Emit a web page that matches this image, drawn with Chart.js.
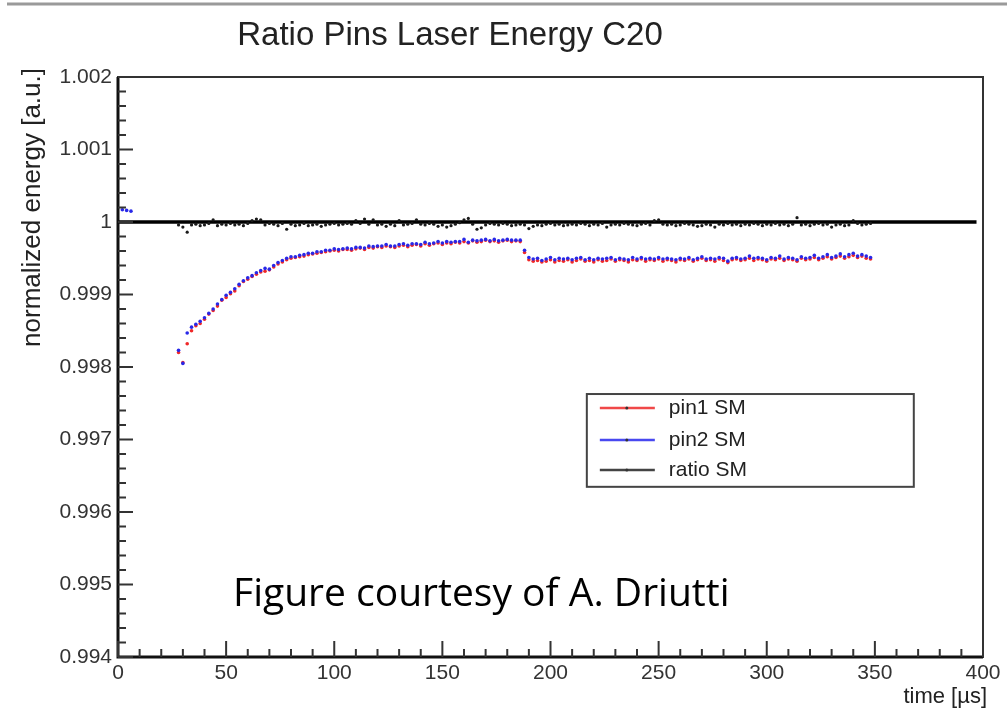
<!DOCTYPE html>
<html>
<head>
<meta charset="utf-8">
<title>Ratio Pins Laser Energy C20</title>
<script src="https://cdn.jsdelivr.net/npm/chart.js@4.4.1/dist/chart.umd.min.js"></script>
<style>
  html, body { margin: 0; padding: 0; background: #fff; }
  #wrap { width: 1007px; height: 715px; position: relative; }
</style>
</head>
<body>
<div id="wrap"><canvas id="chart" width="1007" height="715"></canvas></div>
<script>
// time [µs], one sample every 2 µs
const times = [
  28, 30, 32, 34, 36, 38, 40, 42, 44, 46, 48, 50, 52, 54, 56, 58, 60, 62, 64, 66,
  68, 70, 72, 74, 76, 78, 80, 82, 84, 86, 88, 90, 92, 94, 96, 98, 100, 102, 104, 106,
  108, 110, 112, 114, 116, 118, 120, 122, 124, 126, 128, 130, 132, 134, 136, 138, 140, 142, 144, 146,
  148, 150, 152, 154, 156, 158, 160, 162, 164, 166, 168, 170, 172, 174, 176, 178, 180, 182, 184, 186,
  188, 190, 192, 194, 196, 198, 200, 202, 204, 206, 208, 210, 212, 214, 216, 218, 220, 222, 224, 226,
  228, 230, 232, 234, 236, 238, 240, 242, 244, 246, 248, 250, 252, 254, 256, 258, 260, 262, 264, 266,
  268, 270, 272, 274, 276, 278, 280, 282, 284, 286, 288, 290, 292, 294, 296, 298, 300, 302, 304, 306,
  308, 310, 312, 314, 316, 318, 320, 322, 324, 326, 328, 330, 332, 334, 336, 338, 340, 342, 344, 346,
  348
];

const pin1 = [
  0.99820, 0.99806, 0.99832, 0.99850, 0.99857, 0.99860, 0.99866, 0.99873, 0.99878, 0.99884,
  0.99892, 0.99896, 0.99901, 0.99905, 0.99912, 0.99918, 0.99921, 0.99925, 0.99928, 0.99931,
  0.99932, 0.99934, 0.99938, 0.99942, 0.99945, 0.99948, 0.99950, 0.99951, 0.99952, 0.99953,
  0.99955, 0.99956, 0.99957, 0.99958, 0.99959, 0.99960, 0.99961, 0.99960, 0.99962, 0.99962,
  0.99961, 0.99963, 0.99964, 0.99962, 0.99965, 0.99964, 0.99966, 0.99965, 0.99967, 0.99966,
  0.99965, 0.99967, 0.99968, 0.99966, 0.99968, 0.99969, 0.99967, 0.99970, 0.99968, 0.99970,
  0.99971, 0.99969, 0.99971, 0.99970, 0.99972, 0.99971, 0.99973, 0.99971, 0.99974, 0.99972,
  0.99973, 0.99975, 0.99973, 0.99974, 0.99972, 0.99974, 0.99975, 0.99973, 0.99974, 0.99973,
  0.99958, 0.99948, 0.99946, 0.99947, 0.99945, 0.99946, 0.99948, 0.99945, 0.99947, 0.99946,
  0.99948, 0.99945, 0.99947, 0.99949, 0.99946, 0.99947, 0.99945, 0.99948, 0.99946, 0.99947,
  0.99949, 0.99946, 0.99948, 0.99947, 0.99945, 0.99948, 0.99947, 0.99949, 0.99946, 0.99948,
  0.99947, 0.99949, 0.99946, 0.99948, 0.99947, 0.99945, 0.99948, 0.99947, 0.99949, 0.99946,
  0.99948, 0.99950, 0.99947, 0.99948, 0.99946, 0.99949, 0.99947, 0.99944, 0.99948, 0.99949,
  0.99947, 0.99948, 0.99950, 0.99947, 0.99949, 0.99948, 0.99946, 0.99949, 0.99948, 0.99950,
  0.99947, 0.99949, 0.99948, 0.99946, 0.99950, 0.99948, 0.99949, 0.99951, 0.99948, 0.99950,
  0.99952, 0.99949, 0.99951, 0.99953, 0.99950, 0.99952, 0.99954, 0.99951, 0.99953, 0.99950,
  0.99949
];

const pin2 = [
  0.99823, 0.99805, 0.99847, 0.99855, 0.99859, 0.99863, 0.99868, 0.99874, 0.99880, 0.99887,
  0.99893, 0.99899, 0.99903, 0.99908, 0.99914, 0.99919, 0.99923, 0.99926, 0.99930, 0.99933,
  0.99936, 0.99935, 0.99940, 0.99944, 0.99947, 0.99950, 0.99952, 0.99952, 0.99954, 0.99955,
  0.99957, 0.99957, 0.99959, 0.99959, 0.99961, 0.99961, 0.99963, 0.99962, 0.99963, 0.99964,
  0.99963, 0.99965, 0.99965, 0.99964, 0.99967, 0.99966, 0.99967, 0.99967, 0.99969, 0.99967,
  0.99967, 0.99969, 0.99970, 0.99968, 0.99970, 0.99970, 0.99969, 0.99972, 0.99970, 0.99971,
  0.99973, 0.99971, 0.99973, 0.99972, 0.99973, 0.99973, 0.99976, 0.99972, 0.99975, 0.99974,
  0.99975, 0.99976, 0.99974, 0.99976, 0.99974, 0.99975, 0.99976, 0.99975, 0.99975, 0.99975,
  0.99961, 0.99951, 0.99949, 0.99950, 0.99947, 0.99949, 0.99951, 0.99948, 0.99950, 0.99949,
  0.99950, 0.99948, 0.99950, 0.99951, 0.99948, 0.99950, 0.99948, 0.99950, 0.99949, 0.99950,
  0.99951, 0.99948, 0.99950, 0.99949, 0.99948, 0.99951, 0.99949, 0.99951, 0.99949, 0.99950,
  0.99949, 0.99951, 0.99949, 0.99950, 0.99949, 0.99948, 0.99950, 0.99949, 0.99951, 0.99948,
  0.99950, 0.99952, 0.99949, 0.99950, 0.99949, 0.99951, 0.99950, 0.99946, 0.99950, 0.99951,
  0.99949, 0.99950, 0.99953, 0.99950, 0.99951, 0.99950, 0.99948, 0.99951, 0.99950, 0.99953,
  0.99949, 0.99951, 0.99950, 0.99948, 0.99952, 0.99950, 0.99951, 0.99954, 0.99950, 0.99952,
  0.99955, 0.99951, 0.99953, 0.99956, 0.99952, 0.99955, 0.99957, 0.99953, 0.99955, 0.99953,
  0.99951
];

// few stray pin2 points at the very start
const earlyTimes = [2, 4, 6];
const earlyPin2 = [1.00017, 1.00016, 1.00015];

const ratio = [
  0.99996, 0.99993, 0.99986, 0.99996, 0.99997, 0.99995, 0.99996, 0.99998, 1.00003, 0.99995,
  0.99997, 0.99996, 0.99998, 0.99996, 0.99997, 0.99995, 0.99998, 1.00002, 1.00004, 1.00003,
  0.99996, 0.99998, 0.99997, 0.99995, 0.99998, 0.99990, 0.99997, 0.99995, 0.99996, 0.99998,
  0.99995, 0.99996, 0.99997, 0.99994, 0.99996, 0.99997, 0.99998, 0.99996, 0.99997, 0.99998,
  0.99997, 1.00002, 0.99998, 1.00004, 0.99997, 1.00003, 0.99996, 0.99997, 0.99994, 0.99997,
  0.99995, 1.00002, 0.99996, 0.99997, 0.99998, 1.00003, 0.99997, 0.99996, 0.99998, 0.99997,
  0.99994, 0.99996, 0.99993, 0.99995, 0.99997, 0.99999, 1.00003, 1.00005, 0.99997, 0.99990,
  0.99992, 0.99996, 0.99998, 0.99997, 0.99996, 0.99998, 0.99997, 0.99995, 0.99996, 0.99997,
  0.99996, 0.99991, 0.99994, 0.99996, 0.99995, 0.99997, 0.99998, 0.99996, 0.99997, 0.99995,
  0.99996, 0.99997, 0.99996, 0.99998, 0.99997, 0.99995, 0.99997, 0.99996, 0.99998, 0.99993,
  0.99996, 0.99997, 0.99996, 0.99998, 0.99997, 0.99996, 0.99995, 0.99997, 0.99998, 0.99996,
  1.00002, 1.00003, 0.99997, 0.99996, 0.99997, 0.99995, 0.99996, 0.99998, 0.99997, 0.99996,
  0.99994, 0.99995, 0.99997, 0.99996, 0.99993, 0.99997, 0.99996, 0.99998, 0.99996, 0.99997,
  0.99995, 0.99997, 0.99996, 0.99998, 0.99997, 0.99995, 0.99997, 0.99996, 0.99998, 0.99996,
  0.99997, 0.99995, 0.99997, 1.00006, 0.99996, 0.99997, 0.99995, 0.99997, 0.99998, 0.99996,
  0.99997, 0.99993, 0.99996, 0.99997, 0.99995, 0.99996, 1.00002, 0.99998, 0.99996, 0.99997,
  0.99998
];

// reference line at 1
const refTimes = [0, 397];
const refValues = [1, 1];

const legendLabels = ["pin1 SM", "pin2 SM", "ratio SM"];
const legendColors = ["#f04848", "#4848f0", "#444444"];

const pin1Color = "#f02828";
const pin2Color = "#2828e8";
const ratioColor = "#1a1a1a";

function toPoints(xs, ys) {
    return xs.map((x, i) => ({ x: x, y: ys[i] }));
}

function isMajorY(v) {
    return Math.abs(v * 1000 - Math.round(v * 1000)) < 1e-6;
}

const rootStyle = {
    id: "rootStyle",
    beforeDraw(chart) {
        const ctx = chart.ctx;
        ctx.save();
        ctx.fillStyle = "#fff";
        ctx.fillRect(0, 0, chart.width, chart.height);
        // grey rule along the top of the slide
        ctx.strokeStyle = "#9a9a9a";
        ctx.lineWidth = 3;
        ctx.beginPath();
        ctx.moveTo(7, 4);
        ctx.lineTo(chart.width, 4);
        ctx.stroke();
        ctx.restore();
    },
    afterDraw(chart) {
        const ctx = chart.ctx;
        const area = chart.chartArea;
        const xs = chart.scales.x;
        const ys = chart.scales.y;
        ctx.save();

        // frame
        ctx.strokeStyle = "#333";
        ctx.lineWidth = 2;
        ctx.strokeRect(area.left, area.top, area.right - area.left, area.bottom - area.top);
        ctx.strokeStyle = "#111";
        ctx.lineWidth = 3;
        ctx.beginPath();
        ctx.moveTo(area.left, area.top);
        ctx.lineTo(area.left, area.bottom);
        ctx.lineTo(area.right, area.bottom);
        ctx.stroke();

        // ticks inside the frame
        ctx.strokeStyle = "#333";
        ctx.lineWidth = 2;
        ctx.beginPath();
        ys.ticks.forEach(t => {
            const py = ys.getPixelForValue(t.value);
            const len = isMajorY(t.value) ? 15 : 8;
            ctx.moveTo(area.left, py);
            ctx.lineTo(area.left + len, py);
        });
        xs.ticks.forEach(t => {
            const px = xs.getPixelForValue(t.value);
            const len = (Math.round(t.value) % 50 === 0) ? 16 : 8;
            ctx.moveTo(px, area.bottom);
            ctx.lineTo(px, area.bottom - len);
        });
        ctx.stroke();

        // title
        ctx.fillStyle = "#222";
        ctx.font = "33px 'Liberation Sans', Arial, sans-serif";
        ctx.textAlign = "center";
        ctx.textBaseline = "middle";
        ctx.fillText("Ratio Pins Laser Energy C20", 450, 36);

        // axis titles
        ctx.font = "22px 'Liberation Sans', Arial, sans-serif";
        ctx.textAlign = "right";
        ctx.textBaseline = "middle";
        ctx.fillText("time [µs]", area.right + 4, 697);

        ctx.save();
        ctx.translate(33, area.top - 9);
        ctx.rotate(-Math.PI / 2);
        ctx.font = "26px 'Liberation Sans', Arial, sans-serif";
        ctx.textAlign = "right";
        ctx.fillText("normalized energy [a.u.]", 0, 0);
        ctx.restore();

        // legend box
        const w = area.right - area.left;
        const h = area.bottom - area.top;
        const bx = area.left + w * 0.542;
        const by = area.top + h * 0.5466;
        const bw = w * 0.378;
        const bh = h * 0.160;
        ctx.fillStyle = "#fff";
        ctx.fillRect(bx, by, bw, bh);
        ctx.strokeStyle = "#444";
        ctx.lineWidth = 2;
        ctx.strokeRect(bx, by, bw, bh);
        const rowY = [14, 46, 76];
        ctx.font = "21px 'Liberation Sans', Arial, sans-serif";
        ctx.textAlign = "left";
        ctx.textBaseline = "middle";
        legendLabels.forEach((label, i) => {
            const ly = by + rowY[i];
            ctx.strokeStyle = legendColors[i];
            ctx.lineWidth = 2.5;
            ctx.beginPath();
            ctx.moveTo(bx + 13, ly);
            ctx.lineTo(bx + 68, ly);
            ctx.stroke();
            ctx.fillStyle = "#333";
            ctx.beginPath();
            ctx.arc(bx + 40, ly, 1.5, 0, Math.PI * 2);
            ctx.fill();
            ctx.fillStyle = "#222";
            ctx.fillText(label, bx + 82, ly);
        });

        // credit
        ctx.fillStyle = "#000";
        ctx.font = "39px 'Open Sans', 'Noto Sans', sans-serif";
        ctx.textAlign = "left";
        ctx.textBaseline = "alphabetic";
        ctx.fillText("Figure courtesy of A. Driutti", 233, 606);

        ctx.restore();
    }
};

const tickFont = { family: "'Liberation Sans', Arial, sans-serif", size: 21 };

new Chart(document.getElementById("chart"), {
    type: "scatter",
    data: {
        datasets: [
            {
                label: "ratio SM",
                data: toPoints(times, ratio),
                backgroundColor: ratioColor,
                borderColor: ratioColor,
                pointRadius: 1.6,
                borderWidth: 0,
                order: 1
            },
            {
                label: "pin1 SM",
                data: toPoints(times, pin1),
                backgroundColor: pin1Color,
                borderColor: pin1Color,
                pointRadius: 1.8,
                borderWidth: 0,
                order: 3
            },
            {
                label: "pin2 SM",
                data: toPoints(earlyTimes, earlyPin2).concat(toPoints(times, pin2)),
                backgroundColor: pin2Color,
                borderColor: pin2Color,
                pointRadius: 1.8,
                borderWidth: 0,
                order: 2
            },
            {
                label: "unity",
                type: "line",
                data: toPoints(refTimes, refValues),
                borderColor: "#000",
                borderWidth: 3.5,
                pointRadius: 0,
                order: 4
            }
        ]
    },
    options: {
        responsive: false,
        animation: false,
        layout: { padding: { top: 77, right: 24, left: 0, bottom: 0 } },
        plugins: {
            legend: { display: false },
            tooltip: { enabled: false },
            title: { display: false }
        },
        scales: {
            x: {
                type: "linear",
                min: 0,
                max: 400,
                grid: { display: false, drawTicks: false },
                border: { display: false },
                ticks: {
                    stepSize: 10,
                    autoSkip: false,
                    maxRotation: 0,
                    padding: 4,
                    color: "#333",
                    font: tickFont,
                    callback: v => (Math.round(v) % 50 === 0 ? String(Math.round(v)) : "")
                },
                afterFit: scale => { scale.height = 58; }
            },
            y: {
                type: "linear",
                min: 0.994,
                max: 1.002,
                grid: { display: false, drawTicks: false },
                border: { display: false },
                ticks: {
                    stepSize: 0.0002,
                    autoSkip: false,
                    padding: 6,
                    color: "#333",
                    font: tickFont,
                    callback: v => (isMajorY(v) ? String(Number(v.toFixed(3))) : "")
                },
                afterFit: scale => { scale.width = 118; }
            }
        }
    },
    plugins: [rootStyle]
});
</script>
</body>
</html>
